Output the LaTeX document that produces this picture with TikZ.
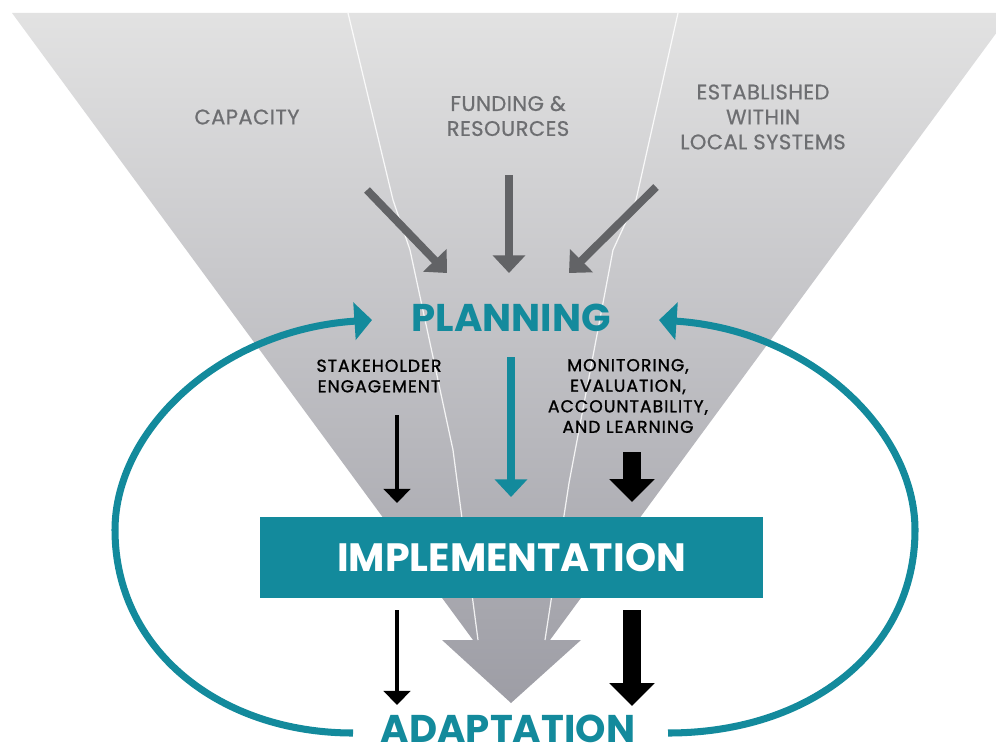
\documentclass[tikz,border=0pt]{standalone}
\usepackage{fontspec}
\setmainfont{Poppins}
\newfontfamily\stepfont[LetterSpace=6,FakeBold=1.2]{Poppins}
\newfontfamily\sourcefont[LetterSpace=2,FakeBold=0.6]{Poppins}
\usepackage{tikz}
\usetikzlibrary{arrows.meta,positioning,calc}
\definecolor{loopteal}{HTML}{138A9C}
\definecolor{sourcegray}{HTML}{6D6E71}
\definecolor{funneltop}{HTML}{E2E2E2}
\definecolor{funnelmid}{HTML}{D3D3D7}
\definecolor{funnelbot}{HTML}{9D9DA5}

\begin{document}
\begin{tikzpicture}[x=0.2mm,y=-0.2mm,
   source/.style={font=\sourcefont\fontsize{12}{14.2}\selectfont,text=sourcegray,align=center,inner sep=0pt},
   stage/.style={font=\bfseries\fontsize{22}{26}\selectfont,text=loopteal,inner sep=0pt},
   steplabel/.style={font=\stepfont\fontsize{9.8}{11.7}\selectfont,align=center,inner sep=0pt},
   implbox/.style={fill=loopteal,text=white,font=\bfseries\fontsize{22.5}{26}\selectfont,
                   minimum width=100.6mm,minimum height=16.2mm,inner sep=0pt},
   divider/.style={white,line width=0.7pt,opacity=0.85},
   sourcearrow/.style={draw=sourcegray!90!black,line width=4.5pt,-{Triangle[width=18pt,length=10pt]}},
   planarrow/.style={draw=loopteal,line width=4pt,-{Triangle[width=18pt,length=10pt]}},
   cyclearrow/.style={draw=loopteal,line width=4pt,-{Triangle[width=21pt,length=10pt]}},
   thinarrow/.style={draw=black,line width=2.8pt,-{Triangle[width=15pt,length=8pt]}},
   thickarrow/.style={draw=black,line width=10pt,-{Triangle[width=25pt,length=13pt]}}]
 \useasboundingbox (0,0) rectangle (996,753);
 % funnel narrowing into a big arrow
 \begin{scope}
  \clip (0,0) rectangle (996,753);
  \shade[top color=funneltop,middle color=funnelmid,bottom color=funnelbot]
    (12,13) -- (1011,13) -- (550,640) -- (581,640) -- (511,703)
    -- (442,640) -- (473,640) -- cycle;
  \draw[divider] (348,13) -- (393,200) -- (410,250) -- (453,450) -- (478,640);
  \draw[divider] (678,13) -- (636,200) -- (613,250) -- (569,483) -- (545,640);
 \end{scope}
 % inputs at the top
 \node[source] (capacity) at (247,117) {CAPACITY};
 \node[source] (funding) at (508,116) {FUNDING \&\\RESOURCES};
 \node[source] (local) at (763,117) {ESTABLISHED\\WITHIN\\LOCAL SYSTEMS};
 \coordinate (capfrom) at (367,190);  \coordinate (capto) at (447,273);
 \coordinate (fundfrom) at (509,175); \coordinate (fundto) at (509,273);
 \coordinate (locfrom) at (656,187);  \coordinate (locto) at (569,273);
 \draw[sourcearrow] (capfrom) -- (capto);
 \draw[sourcearrow] (fundfrom) -- (fundto);
 \draw[sourcearrow] (locfrom) -- (locto);
 % stages
 \node[stage] (planning) at (511,318) {PLANNING};
 \node[implbox] (impl) at (511.5,557.5) {IMPLEMENTATION};
 \node[stage] (adapt) at (508,729) {ADAPTATION};
 \node[steplabel] (stake) at (379,376) {STAKEHOLDER\\ENGAGEMENT};
 \node[steplabel] (meal) at (628,396) {MONITORING,\\EVALUATION,\\ACCOUNTABILITY,\\AND LEARNING};
 % arrows between the stages
 \coordinate (pfrom) at (511,357);  \coordinate (pto) at (511,497);
 \coordinate (sfrom) at (397,415);  \coordinate (sto) at (397,503);
 \coordinate (mfrom) at (632,452);  \coordinate (mto) at (632,502);
 \coordinate (slow) at (397,610);   \coordinate (slowto) at (397,705);
 \coordinate (mlow) at (632,610);   \coordinate (mlowto) at (632,706);
 \draw[planarrow] (pfrom) -- (pto);
 \draw[thinarrow] (sfrom) -- (sto);
 \draw[thickarrow] (mfrom) -- (mto);
 \draw[thinarrow] (slow) -- (slowto);
 \draw[thickarrow] (mlow) -- (mlowto);
 % adaptation feeds back into planning on both sides
 \coordinate (lstart) at (353,733); \coordinate (lend) at (372,320);
 \coordinate (rstart) at (668,733); \coordinate (rend) at (659,320);
 \draw[cyclearrow] (lstart) .. controls (220,733) and (115,650) .. (115,530)
   .. controls (115,430) and (220,330) .. (lend);
 \draw[cyclearrow] (rstart) .. controls (810,733) and (915,650) .. (915,530)
   .. controls (915,430) and (810,330) .. (rend);
\end{tikzpicture}
\end{document}
